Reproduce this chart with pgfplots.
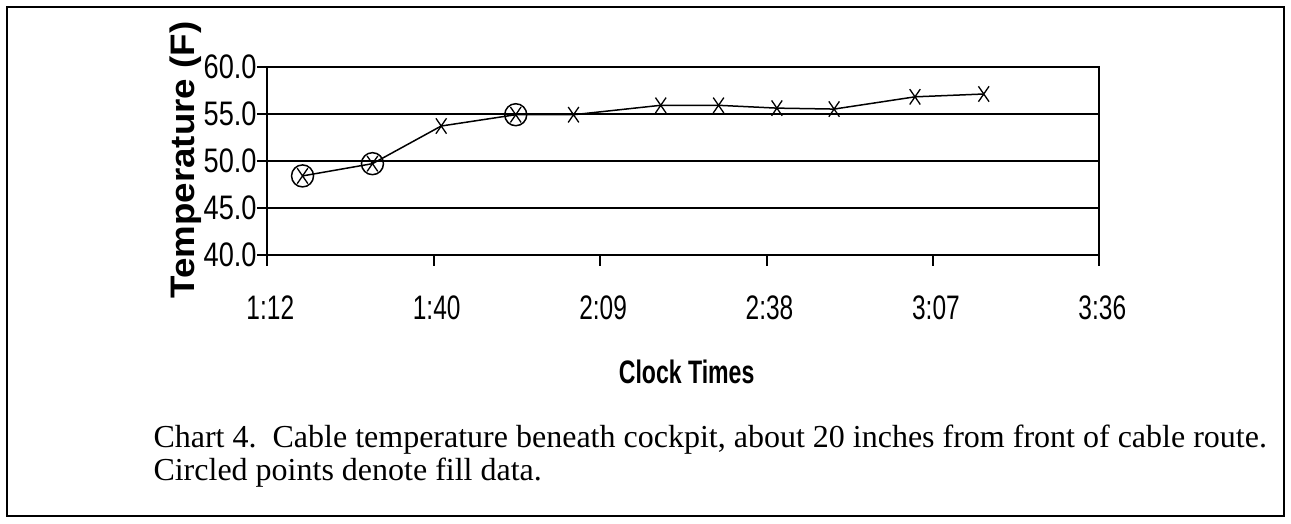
\documentclass[border=0pt]{standalone}
\usepackage{pgfplots}
\pgfplotsset{compat=1.18}
\usepackage{fontspec}
\setmainfont{Liberation Serif}
\newfontfamily\arial{Liberation Sans}
\usepackage{graphicx}

% narrowed sans labels, as the spreadsheet set them
\newcommand\tickfont{\arial\fontsize{34}{36}\selectfont}
\newcommand\xl[1]{\scalebox{0.72}[1]{#1}}
\newcommand\yl[1]{\scalebox{0.8}[1]{#1}}

% clock time in minutes after midnight, temperature in F
\pgfplotstableread{
t      temp
78.1   48.4
90.2   49.7
102.1  53.7
115.0  54.9
125.0  54.9
140.1  55.9
150.1  55.9
160.2  55.6
170.1  55.5
184.1  56.8
196.0  57.1
}\cabletemp

% readings that were filled in
\pgfplotstableread{
t      temp
78.1   48.4
90.2   49.7
115.0  54.9
}\filldata

\begin{document}
\begin{tikzpicture}[x=1pt,y=1pt]
\useasboundingbox (0,0) rectangle (1291,523);
\draw[line width=2pt] (7,7) rectangle (1284,516);

\begin{axis}[
  at={(267.3pt,268pt)}, anchor=south west,
  scale only axis, width=832pt, height=188.3pt,
  xmin=72, xmax=216, ymin=40, ymax=60,
  clip=false,
  axis line style={line width=2pt},
  xtick={72,100.8,129.6,158.4,187.2,216},
  xticklabels={\xl{1:12},\xl{1:40},\xl{2:09},\xl{2:38},\xl{3:07},\xl{3:36}},
  ytick={40,45,50,55,60},
  yticklabels={\yl{40.0},\yl{45.0},\yl{50.0},\yl{55.0},\yl{60.0}},
  minor tick num=0,
  tick align=outside, major tick length=10.5pt,
  tick style={line width=2pt, black},
  xtick pos=bottom, ytick pos=left,
  ymajorgrids, major grid style={line width=2pt, black},
  ticklabel style={font=\tickfont, inner sep=0pt},
  xticklabel style={xshift=3pt},
  xticklabel shift=30pt,
  yticklabel shift=0pt,
  xlabel={\scalebox{0.71}[1]{Clock Times}},
  xlabel style={font=\arial\bfseries\fontsize{32.5}{36}\selectfont,
    at={(axis description cs:0.504,-0.681)}, anchor=base, inner sep=0pt},
  ylabel={\scalebox{1.08}[1]{Temperature (F)}},
  ylabel style={font=\arial\bfseries\fontsize{34}{40}\selectfont,
    at={(axis description cs:-0.0875,0.5045)}, anchor=base, inner sep=0pt},
]
\addplot[black, line width=1.5pt, mark=x, mark size=7.5pt,
  mark options={yscale=1.45, line width=1.3pt}] table[x=t, y=temp] {\cabletemp};
\addplot[black, only marks, mark=o, mark size=11pt,
  mark options={line width=1.5pt}] table[x=t, y=temp] {\filldata};
\end{axis}

\node[anchor=base west, inner sep=0pt, font=\fontsize{32}{34}\selectfont]
  at (153.3,75.7) {Chart 4.\ \ Cable temperature beneath cockpit, about 20 inches from front of cable route.};
\node[anchor=base west, inner sep=0pt, font=\fontsize{32}{34}\selectfont]
  at (153.3,43) {Circled points denote fill data.};
\end{tikzpicture}
\end{document}
